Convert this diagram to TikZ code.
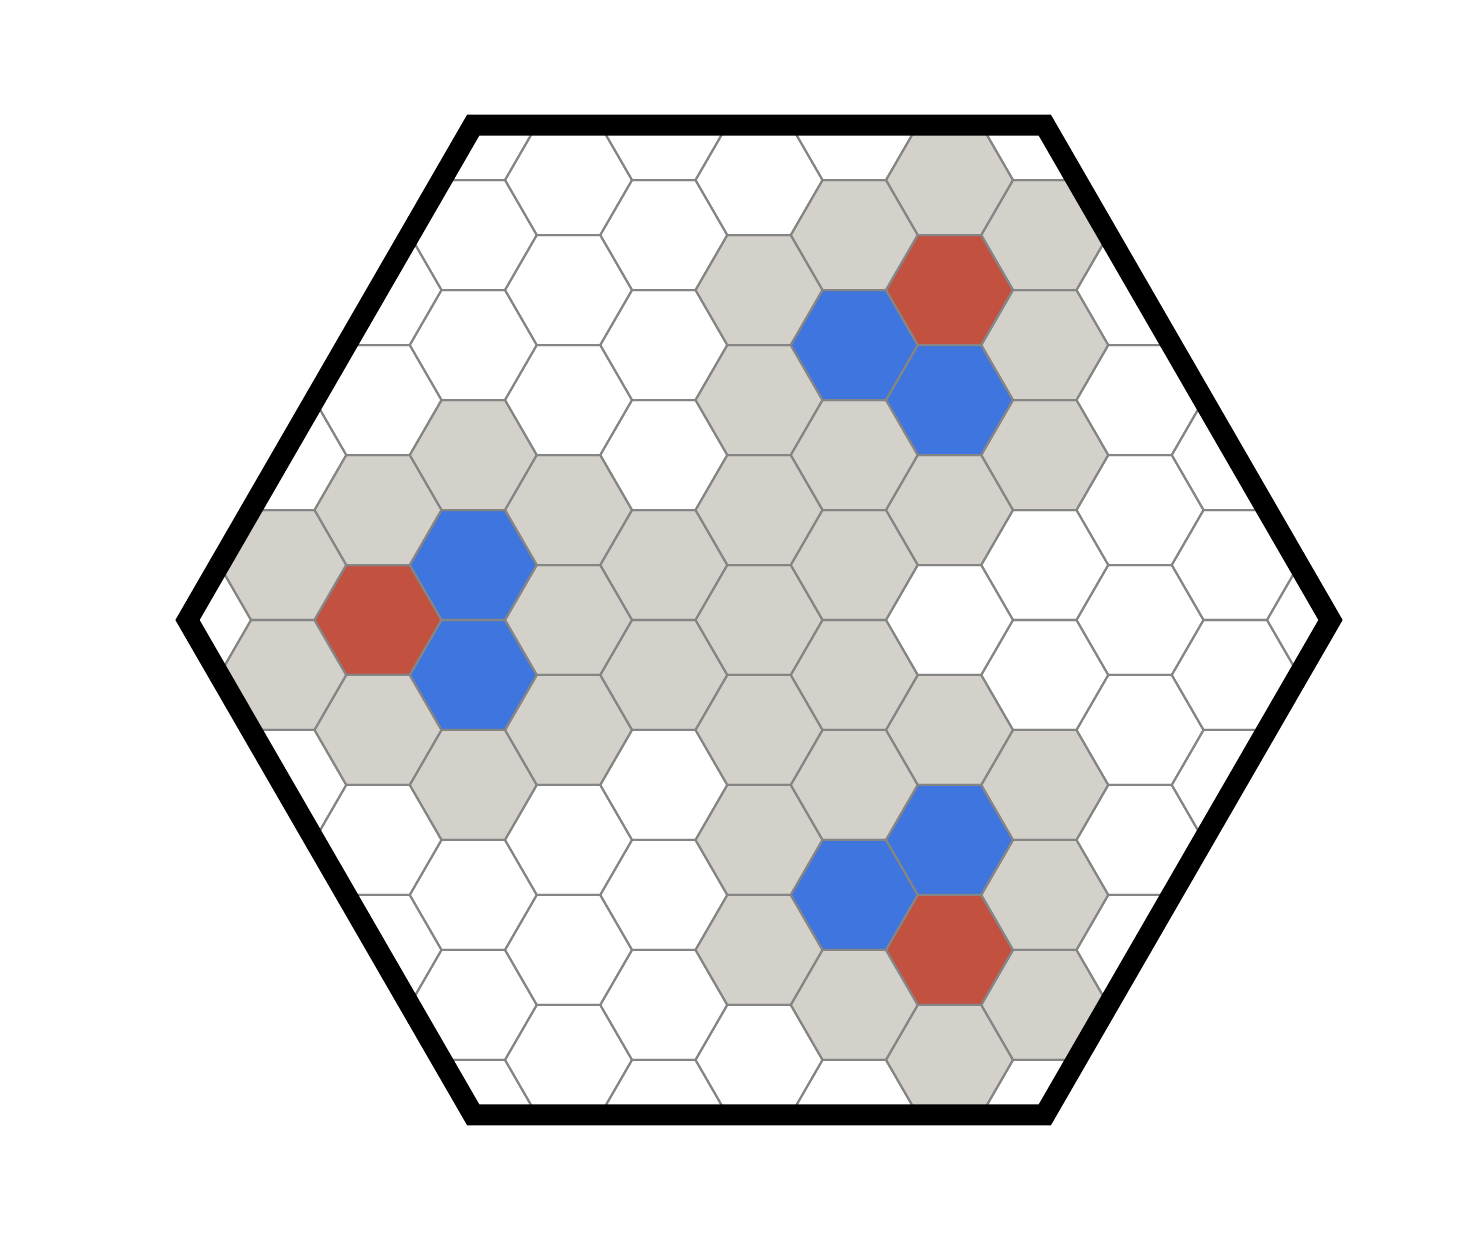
\documentclass[tikz,border=0pt]{standalone}
\usepackage{tikz}
\definecolor{cellgray}{HTML}{D3D1CA}
\definecolor{cellred}{HTML}{C25140}
\definecolor{cellblue}{HTML}{3E75DE}
\definecolor{hexgray}{HTML}{858585}

\begin{document}
\begin{tikzpicture}[hexcell/.style = {insert path={+(0:1) -- +(60:1) -- +(120:1) -- +(180:1) -- +(240:1) -- +(300:1) -- cycle}},
        hexline/.style = {draw=hexgray, line width=0.9pt, line join=round},
        rim/.style = {draw=black, line width=9.4pt, line join=miter}]
        \useasboundingbox (-11.953,-9.858) rectangle (11.008,9.764);
        \begin{scope}
        \clip (0:9) -- (60:9) -- (120:9) -- (180:9) -- (240:9) -- (300:9) -- cycle;
        % gray rings round the three groups and the path between them
        \foreach \q/\r in {3/-4, 1/-4, 2/-5, 3/-5, 0/-3, 1/-2, 0/-2, 3/-3, 2/-2,
                0/-1, 1/-1, 0/0, 1/0, 0/1, -1/0, -1/1,
                3/1, 1/1, 2/0, 3/0, 0/2, 1/3, 0/3, 3/2, 2/3,
                -5/2, -4/3, -4/1, -5/3, -2/1, -3/0, -2/0, -2/2, -3/3}
            \fill[cellgray] ({1.5*\q},{-0.866*\q-1.732*\r}) [hexcell];
        % red cells
        \foreach \q/\r in {2/-4, -4/2, 2/2}
            \fill[cellred] ({1.5*\q},{-0.866*\q-1.732*\r}) [hexcell];
        % blue cells
        \foreach \q/\r in {1/-3, 2/-3, -3/1, -3/2, 2/1, 1/2}
            \fill[cellblue] ({1.5*\q},{-0.866*\q-1.732*\r}) [hexcell];
        % the grid
        \foreach \q in {-7,...,7}
            \foreach \r in {-9,...,9}
                \draw[hexline] ({1.5*\q},{-0.866*\q-1.732*\r}) [hexcell];
        \end{scope}
        \draw[rim] (0:9) -- (60:9) -- (120:9) -- (180:9) -- (240:9) -- (300:9) -- cycle;
      \end{tikzpicture}
\end{document}
